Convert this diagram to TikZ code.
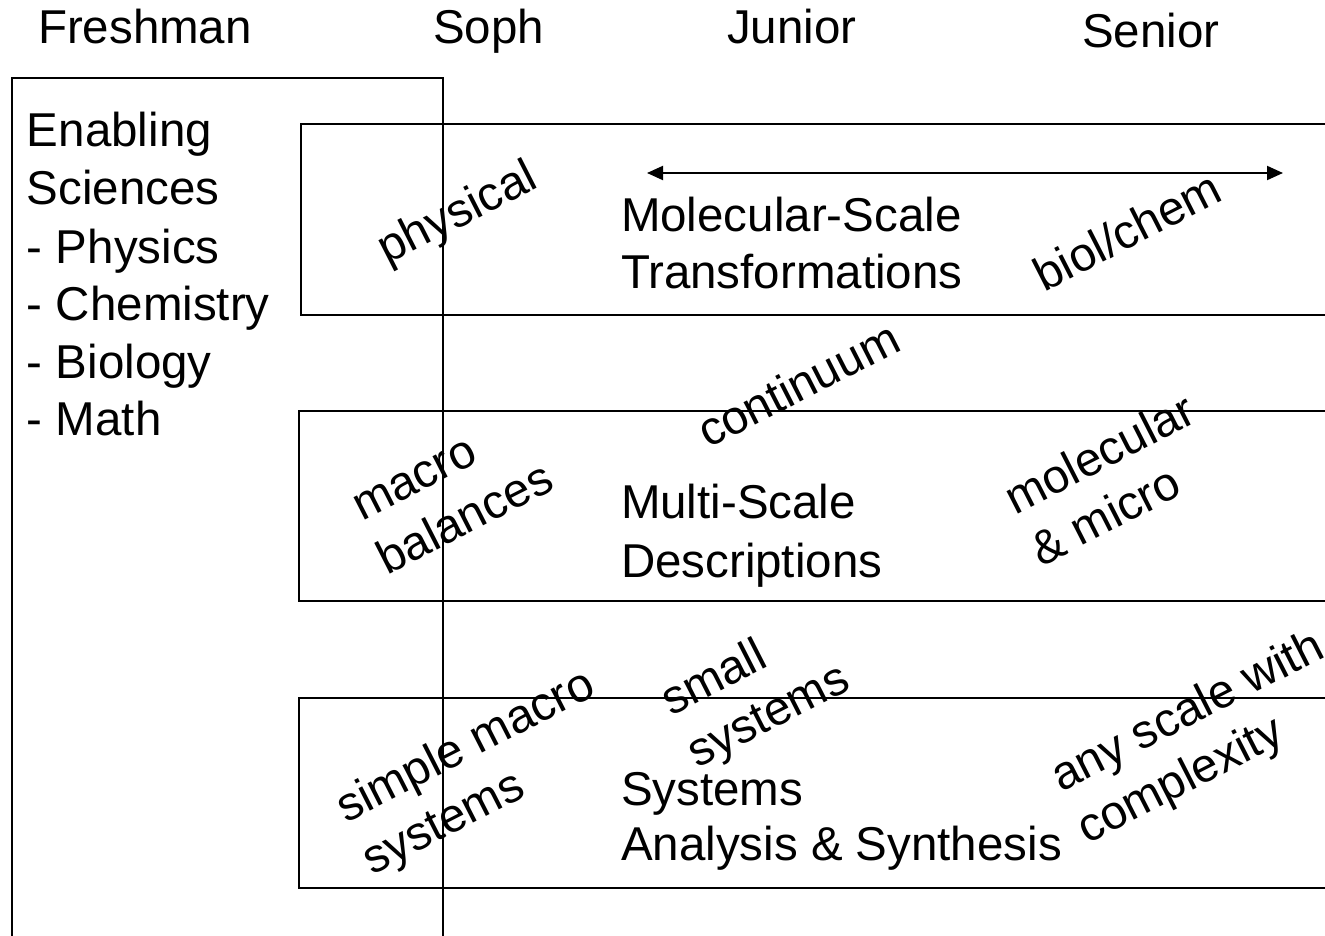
\documentclass[tikz,border=0pt]{standalone}
\usepackage{fontspec}
\setmainfont{Liberation Sans}
\usetikzlibrary{arrows.meta}
\begin{document}
\begin{tikzpicture}[x=1pt,y=-1pt,
  txt/.style={inner sep=0pt,outer sep=0pt,font=\fontsize{47.5}{57}\selectfont},
  lbl/.style={txt,anchor=base west},
  rot/.style={txt,rotate=27},
  rotl/.style={rot,anchor=base west},
  frame/.style={line width=2pt,line join=miter},
  dbl/.style={line width=2pt,{Triangle[length=16pt,width=14pt]}-{Triangle[length=16pt,width=14pt]}}]
\useasboundingbox (0,0) rectangle (1325,936);
% frames
\draw[frame] (12,936) -- (12,78) -- (443,78) -- (443,936);
\draw[frame] (1325,124) -- (301,124) -- (301,315) -- (1325,315);
\draw[frame] (1325,411) -- (299,411) -- (299,601) -- (1325,601);
\draw[frame] (1325,698) -- (299,698) -- (299,888) -- (1325,888);
% headers
\node[lbl] (fr) at (38,44) {Freshman};
\node[lbl] (so) at (433,44) {Soph};
\node[lbl] (ju) at (727,44) {Junior};
\node[lbl] (se) at (1082,48) {Senior};
% left column
\node[lbl] (l1) at (27,147) {Enabling};
\node[lbl] (l2) at (27,205) {Sciences};
\node[lbl] (l3) at (27,263) {- Physics};
\node[lbl] (l4) at (27,320) {- Chemistry};
\node[lbl] (l5) at (27,378) {- Biology};
\node[lbl] (l6) at (27,435) {- Math};
% box titles
\node[lbl] (m1) at (621,232) {Molecular-Scale};
\node[lbl] (m2) at (621,288) {Transformations};
\node[lbl] (d1) at (621,518) {Multi-Scale};
\node[lbl] (d2) at (621,577) {Descriptions};
\node[lbl] (s1) at (621,805) {Systems};
\node[lbl] (s2) at (621,860) {Analysis \& Synthesis};
% arrow
\coordinate (aL) at (647,173);
\coordinate (aR) at (1283,173);
\draw[dbl] (aL) -- (aR);
% rotated labels
\node[rot] (phys) at (458,215) {physical};
\node[rot] (bio) at (1127,231) {biol/chem};
\node[rot] (cont) at (798,384) {continuum};
\node[rotl] (macroA) at (362,521) {macro};
\node[rotl] (macroB) at (387,575) {balances};
\node[rotl] (molecA) at (1015,515) {molecular};
\node[rotl] (molecB) at (1041,567) {\& micro};
\node[rotl] (simpleA) at (346,823) {simple macro};
\node[rotl] (simpleB) at (372,875) {systems};
\node[rotl] (smallA) at (671,716) {small};
\node[rotl] (smallB) at (697,768) {systems};
\node[rotl] (anyA) at (1061,792) {any scale with};
\node[rotl] (anyB) at (1087,844) {complexity};
\end{tikzpicture}
\end{document}
